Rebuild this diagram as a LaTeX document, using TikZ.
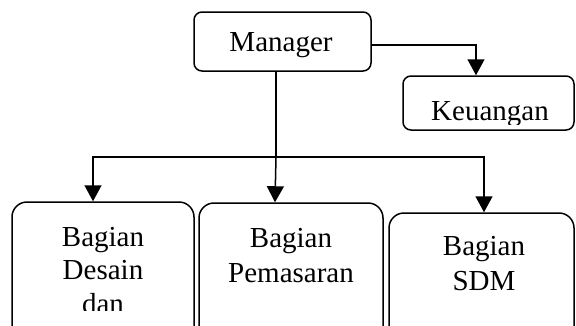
\documentclass[tikz,border=0pt]{standalone}
\usepackage{fontspec}
\setmainfont{Liberation Serif}
\usetikzlibrary{arrows.meta}
\begin{document}
\begin{tikzpicture}[x=1pt,y=-1pt,
  box/.style={draw,line width=1.5pt,rounded corners=#1,inner sep=0pt},
  box/.default=8pt,
  txt/.style={anchor=base,inner sep=0pt,font=\fontsize{29}{33}\selectfont},
  arr/.style={line width=1.5pt,-{Triangle[width=17pt,length=16pt]}},
  ln/.style={line width=1.5pt}]
\clip (0,0) rectangle (576,325);
\fill[white] (0,0) rectangle (576,325);
% boxes
\node[box, minimum width=177pt, minimum height=59pt] (man) at (282.5,41.5) {};
\node[box, minimum width=171pt, minimum height=54pt] (keu) at (488.5,103) {};
\node[box=15pt, minimum width=182pt, minimum height=143pt] (des) at (103,273.5) {};
\node[box=15pt, minimum width=184pt, minimum height=142pt] (pem) at (291,274) {};
\node[box=15pt, minimum width=185pt, minimum height=132pt] (sdm) at (481.5,279) {};
% texts
\node[txt] (tman) at (281,51) {Manager};
\begin{scope}
\clip (403,76) rectangle (574,124);
\node[txt] (tkeu) at (490,120) {Keuangan};
\end{scope}
\begin{scope}
\clip (12,202) rectangle (194,310.5);
\node[txt] (tdes1) at (103,246) {Bagian};
\node[txt] (tdes2) at (103,279) {Desain};
\node[txt] (tdes3) at (103,313) {dan};
\end{scope}
\node[txt] (tpem1) at (291,247) {Bagian};
\node[txt] (tpem2) at (291,282) {Pemasaran};
\node[txt] (tsdm1) at (484,255) {Bagian};
\node[txt] (tsdm2) at (484,290) {SDM};
% connectors
\coordinate (j) at (276,157);
\draw[arr] ([yshift=-3.5pt]man.east) -| ([xshift=-12.5pt]keu.north);
\draw[ln] ([xshift=-6.5pt]man.south) -- (j);
\draw[arr] (j) -- ([xshift=-16pt]pem.north);
\draw[arr] (j) -| ([xshift=-10pt]des.north);
\draw[arr] (j) -| ([xshift=2.5pt]sdm.north);
\end{tikzpicture}
\end{document}
